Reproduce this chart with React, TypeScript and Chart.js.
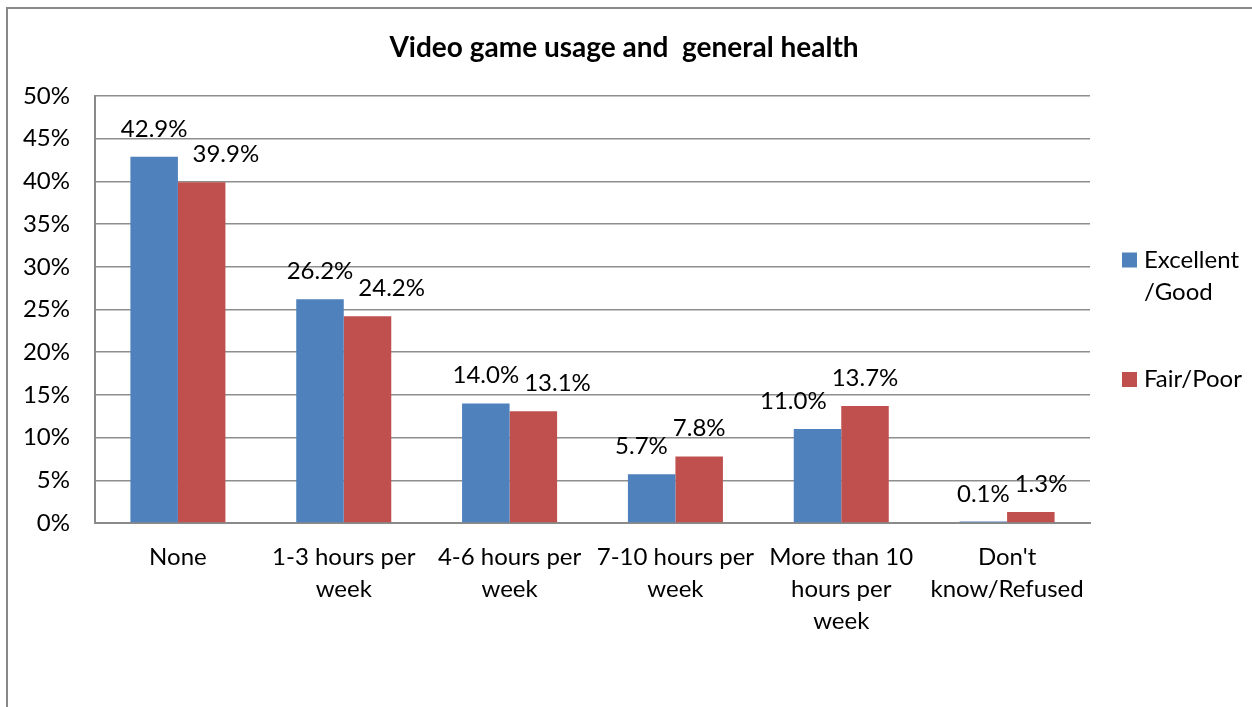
import React, { useEffect, useRef } from "react";
import { Chart, registerables } from "chart.js";

Chart.register(...registerables);

const TITLE = "Video game usage and  general health";
const CATEGORIES: string[][] = [
  ["None"],
  ["1-3 hours per", "week"],
  ["4-6 hours per", "week"],
  ["7-10 hours per", "week"],
  ["More than 10", "hours per", "week"],
  ["Don't", "know/Refused"],
];
const SERIES_NAMES = ["Excellent /Good", "Fair/Poor"];
const EXCELLENT_GOOD = [42.9, 26.2, 14.0, 5.7, 11.0, 0.1];
const FAIR_POOR = [39.9, 24.2, 13.1, 7.8, 13.7, 1.3];
const Y_MIN = 0;
const Y_MAX = 50;
const Y_STEP = 5;

const COLORS = ["#4F81BD", "#C0504D"];
const FONT = "Lato, 'Open Sans', sans-serif";
const FS = 24;

const overlayPlugin = {
  id: "overlay",
  afterDatasetsDraw(chart: any) {
    const ctx = chart.ctx;
    ctx.save();
    ctx.font = `${FS}px ${FONT}`;
    ctx.fillStyle = "#000";
    ctx.textAlign = "center";
    ctx.textBaseline = "alphabetic";
    const m0 = chart.getDatasetMeta(0);
    const m1 = chart.getDatasetMeta(1);
    const d0 = chart.data.datasets[0].data as number[];
    const d1 = chart.data.datasets[1].data as number[];
    const off = 20;
    const textH = 26;
    for (let i = 0; i < d0.length; i++) {
      const b0 = m0.data[i];
      const b1 = m1.data[i];
      const t0 = d0[i].toFixed(1) + "%";
      const t1 = d1[i].toFixed(1) + "%";
      const w0 = ctx.measureText(t0).width;
      const w1 = ctx.measureText(t1).width;
      let x0 = b0.x;
      let x1 = b1.x;
      const y0 = b0.y - off;
      const y1 = b1.y - off;
      if (Math.abs(y0 - y1) < textH) {
        const overlap = x0 + w0 / 2 - (x1 - w1 / 2) + 5;
        if (overlap > 0) {
          if (d0[i] < d1[i] && d0[i] > 1) x0 -= overlap;
          else x1 += overlap;
        }
      }
      ctx.fillText(t0, x0, y0);
      ctx.fillText(t1, x1, y1);
    }
    ctx.restore();
  },
  afterDraw(chart: any) {
    const ctx = chart.ctx;
    const area = chart.chartArea;
    ctx.save();
    // title
    ctx.font = `bold 28px ${FONT}`;
    ctx.fillStyle = "#000";
    ctx.textAlign = "center";
    ctx.textBaseline = "alphabetic";
    ctx.fillText(TITLE, 624, 57);
    // legend
    ctx.font = `${FS}px ${FONT}`;
    ctx.textAlign = "left";
    ctx.textBaseline = "middle";
    const mid = (area.top + area.bottom) / 2;
    const starts = [mid - 49.5, mid + 70];
    const sx = area.right + 32;
    const maxW = 110;
    chart.data.datasets.forEach((ds: any, k: number) => {
      const words = String(ds.label).split(" ");
      const lines: string[] = [];
      let cur = "";
      for (const w of words) {
        const test = cur ? cur + " " + w : w;
        if (cur && ctx.measureText(test).width > maxW) {
          lines.push(cur);
          cur = w;
        } else cur = test;
      }
      if (cur) lines.push(cur);
      const y = starts[k];
      ctx.fillStyle = ds.backgroundColor;
      ctx.fillRect(sx, y - 7.5, 15, 15);
      ctx.fillStyle = "#000";
      lines.forEach((ln, j) => ctx.fillText(ln, sx + 22, y + j * 32));
    });
    ctx.restore();
  },
};

export default function App() {
  const ref = useRef<HTMLCanvasElement>(null);
  useEffect(() => {
    if (!ref.current) return;
    const chart = new Chart(ref.current, {
      type: "bar",
      data: {
        labels: CATEGORIES,
        datasets: [
          {
            label: SERIES_NAMES[0],
            data: EXCELLENT_GOOD,
            backgroundColor: COLORS[0],
            categoryPercentage: 0.573,
            barPercentage: 1,
            minBarLength: 1.5,
          },
          {
            label: SERIES_NAMES[1],
            data: FAIR_POOR,
            backgroundColor: COLORS[1],
            categoryPercentage: 0.573,
            barPercentage: 1,
          },
        ],
      },
      options: {
        animation: false,
        responsive: false,
        maintainAspectRatio: false,
        layout: { padding: { left: 0, top: 96, right: 162, bottom: 0 } },
        plugins: {
          legend: { display: false },
          title: { display: false },
          tooltip: { enabled: false },
        },
        scales: {
          x: {
            grid: { display: false, drawTicks: false },
            border: { display: true, color: "#8a8a8a", width: 2 },
            ticks: {
              color: "#000",
              font: { family: FONT, size: FS, lineHeight: 32 / FS },
              padding: 18,
              maxRotation: 0,
              autoSkip: false,
            },
            afterFit(scale: any) {
              scale.height = 184;
            },
          },
          y: {
            min: Y_MIN,
            max: Y_MAX,
            grid: { color: "#8e8e8e", lineWidth: 1.5, drawTicks: false },
            border: { display: true, color: "#8a8a8a", width: 2 },
            ticks: {
              stepSize: Y_STEP,
              color: "#000",
              font: { family: FONT, size: FS },
              padding: 25,
              callback: (v: any) => `${v}%`,
            },
            afterFit(scale: any) {
              scale.width = 95;
            },
          },
        },
      },
      plugins: [overlayPlugin],
    });
    return () => chart.destroy();
  }, []);
  return (
    <div
      style={{
        position: "absolute",
        left: 0,
        top: 0,
        width: 1252,
        height: 707,
        overflow: "hidden",
        background: "#fff",
      }}
    >
      <div
        style={{
          position: "absolute",
          left: 6,
          top: 7,
          width: 1300,
          height: 800,
          borderLeft: "2px solid #888",
          borderTop: "2px solid #888",
        }}
      />
      <canvas
        ref={ref}
        width={1252}
        height={707}
        style={{ position: "absolute", left: 0, top: 0, width: 1252, height: 707 }}
      />
    </div>
  );
}
